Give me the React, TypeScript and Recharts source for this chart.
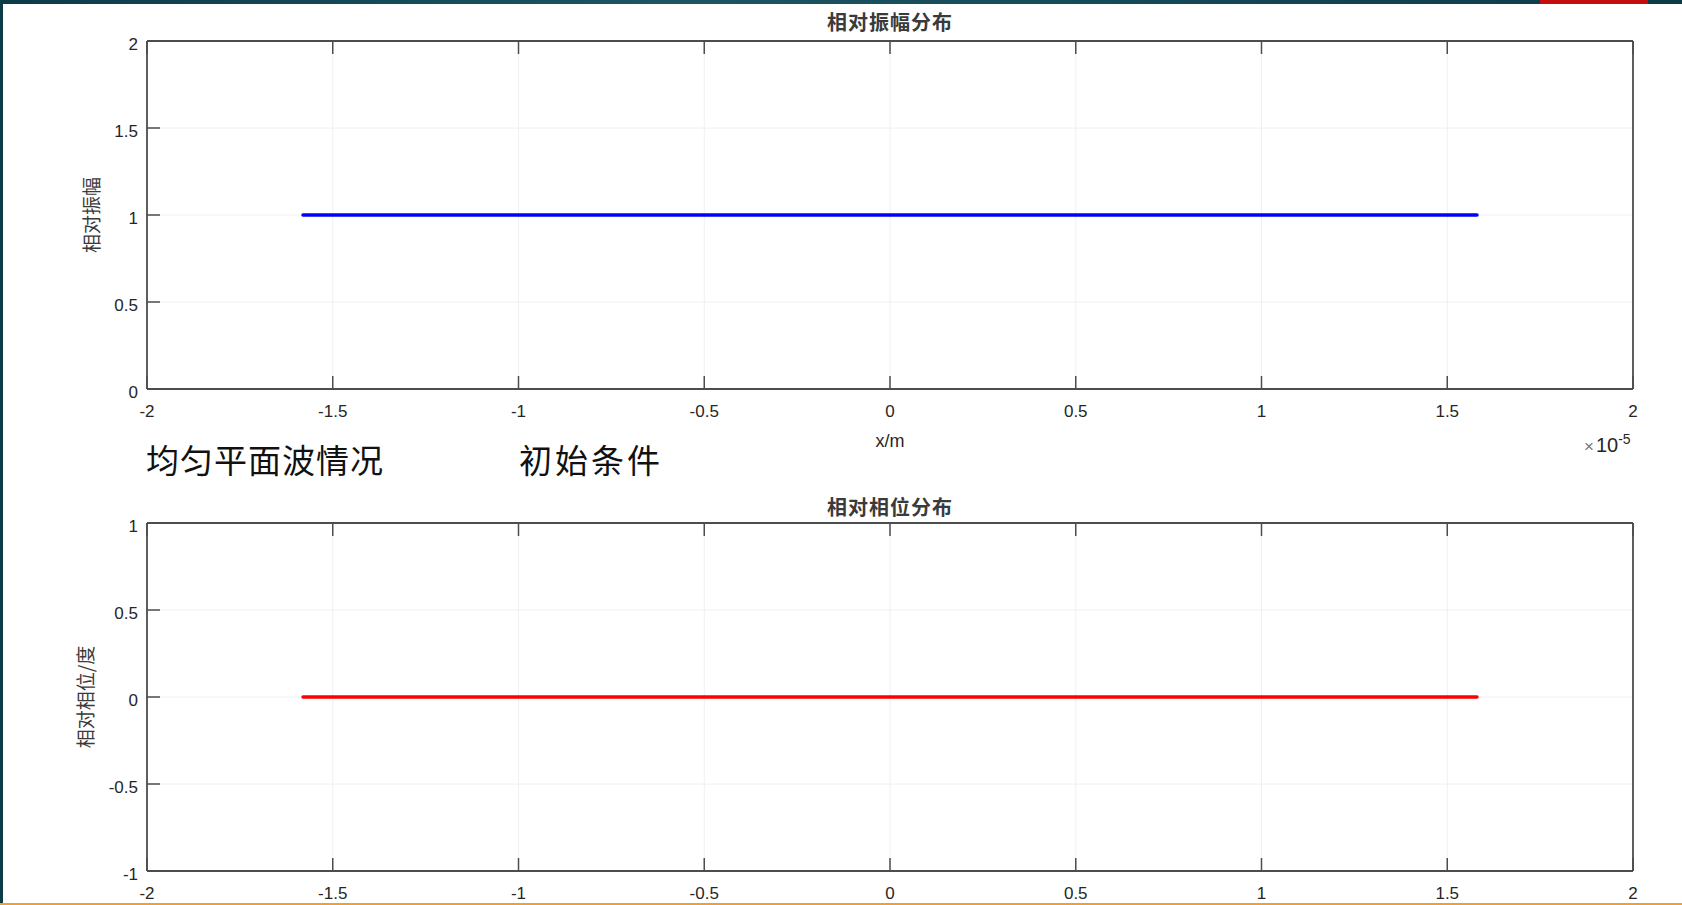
import { CartesianGrid, Line, LineChart, XAxis, YAxis } from 'recharts'

// x positions are in units of 1e-5 m
const xPositions = [-1.58, -1.2, -0.8, -0.4, 0, 0.4, 0.8, 1.2, 1.58]
const amplitude = [1, 1, 1, 1, 1, 1, 1, 1, 1]
const phase = [0, 0, 0, 0, 0, 0, 0, 0, 0]

const xTicks = [-2, -1.5, -1, -0.5, 0, 0.5, 1, 1.5, 2]
const ampTicks = [0, 0.5, 1, 1.5, 2]
const phaseTicks = [-1, -0.5, 0, 0.5, 1]

const ampData = xPositions.map((x, i) => ({ x, y: amplitude[i] }))
const phaseData = xPositions.map((x, i) => ({ x, y: phase[i] }))

const AXIS = '#4d4d4d'
const TICK_LEN = 13
const numFont = '"Liberation Sans", Arial, sans-serif'
const cjkFont = '"Noto Sans CJK SC", sans-serif'

const fmt = (v: number) => String(v)

const BottomTick = (props: any) => {
    const { x, y, payload } = props
    return (
        <g>
            <line x1={x} y1={y} x2={x} y2={y - TICK_LEN} stroke={AXIS} strokeWidth={1.5} />
            <text x={x} y={y + 22} textAnchor='middle' dominantBaseline='central' fontSize={17} fill='#262626' fontFamily={numFont}>
                {fmt(payload.value)}
            </text>
        </g>
    )
}

const TopTick = (props: any) => {
    const { x, y } = props
    return <line x1={x} y1={y} x2={x} y2={y + TICK_LEN} stroke={AXIS} strokeWidth={1.5} />
}

const LeftTick = (props: any) => {
    const { x, y, payload } = props
    return (
        <g>
            <line x1={x} y1={y} x2={x + TICK_LEN} y2={y} stroke={AXIS} strokeWidth={1.5} />
            <text x={x - 9} y={y + 3} textAnchor='end' dominantBaseline='central' fontSize={17} fill='#262626' fontFamily={numFont}>
                {fmt(payload.value)}
            </text>
        </g>
    )
}

const RightTick = (props: any) => {
    const { x, y } = props
    return <line x1={x} y1={y} x2={x - TICK_LEN} y2={y} stroke={AXIS} strokeWidth={1.5} />
}

function Panel({ data, ticks, domain, color }: { data: any[]; ticks: number[]; domain: [number, number]; color: string }) {
    return (
        <LineChart width={1682} height={440} data={data} margin={{ top: 31, right: 39, bottom: 21, left: 107 }}>
            <CartesianGrid stroke='#f0f0f0' strokeWidth={1} />
            <XAxis
                dataKey='x'
                type='number'
                domain={[-2, 2]}
                ticks={xTicks}
                allowDataOverflow
                height={30}
                tickSize={0}
                tickMargin={0}
                tickLine={false}
                axisLine={{ stroke: AXIS, strokeWidth: 1.8 }}
                tick={<BottomTick />}
                interval={0}
            />
            <XAxis
                xAxisId='top'
                orientation='top'
                dataKey='x'
                type='number'
                domain={[-2, 2]}
                ticks={xTicks}
                height={10}
                tickSize={0}
                tickMargin={0}
                tickLine={false}
                axisLine={{ stroke: AXIS, strokeWidth: 1.8 }}
                tick={<TopTick />}
                interval={0}
            />
            <YAxis
                type='number'
                domain={domain}
                ticks={ticks}
                width={40}
                tickSize={0}
                tickMargin={0}
                tickLine={false}
                axisLine={{ stroke: AXIS, strokeWidth: 1.8 }}
                tick={<LeftTick />}
                interval={0}
            />
            <YAxis
                yAxisId='right'
                orientation='right'
                type='number'
                domain={domain}
                ticks={ticks}
                width={10}
                tickSize={0}
                tickMargin={0}
                tickLine={false}
                axisLine={{ stroke: AXIS, strokeWidth: 1.8 }}
                tick={<RightTick />}
                interval={0}
            />
            <Line dataKey='y' stroke={color} strokeWidth={3.5} strokeLinecap='round' dot={false} isAnimationActive={false} />
        </LineChart>
    )
}

const abs = (left: number, top: number): React.CSSProperties => ({ position: 'absolute', left, top })

export default function App() {
    return (
        <div style={{ position: 'absolute', left: 0, top: 0, width: 1682, height: 905, background: '#fff', overflow: 'hidden' }}>
            {/* slide frame */}
            <div style={{ ...abs(0, 0), width: 1682, height: 4, background: 'linear-gradient(90deg, #0c3b48, #1d5560 40%, #0c3b48)' }} />
            <div style={{ ...abs(1540, 0), width: 108, height: 4, background: '#c40d0d' }} />
            <div style={{ ...abs(0, 0), width: 3, height: 905, background: '#0c3b48' }} />
            <div style={{ ...abs(0, 903), width: 1682, height: 2, background: '#f0a030' }} />

            <div style={abs(0, 0)}>
                <Panel data={ampData} ticks={ampTicks} domain={[0, 2]} color='#0000ff' />
            </div>
            <div style={abs(0, 482)}>
                <Panel data={phaseData} ticks={phaseTicks} domain={[-1, 1]} color='#ff0000' />
            </div>

            {/* titles */}
            <div style={{ ...abs(690, 9), width: 400, textAlign: 'center', fontFamily: cjkFont, fontSize: 20, fontWeight: 700, color: '#3a3a3a', lineHeight: '26px', letterSpacing: 1 }}>
                相对振幅分布
            </div>
            <div style={{ ...abs(690, 494), width: 400, textAlign: 'center', fontFamily: cjkFont, fontSize: 20, fontWeight: 700, color: '#3a3a3a', lineHeight: '26px', letterSpacing: 1 }}>
                相对相位分布
            </div>

            {/* y labels */}
            <div style={{ ...abs(90, 215), transform: 'translate(-50%, -50%) rotate(-90deg)', whiteSpace: 'nowrap', fontFamily: cjkFont, fontSize: 19, color: '#3a3a3a' }}>
                相对振幅
            </div>
            <div style={{ ...abs(84, 697), transform: 'translate(-50%, -50%) rotate(-90deg)', whiteSpace: 'nowrap', fontFamily: cjkFont, fontSize: 19, color: '#3a3a3a' }}>
                相对相位/度
            </div>

            {/* x label + exponent */}
            <div style={{ ...abs(790, 429), width: 200, textAlign: 'center', fontFamily: numFont, fontSize: 18, color: '#262626', lineHeight: '24px' }}>
                x/m
            </div>
            <div style={{ ...abs(1584, 426), whiteSpace: 'nowrap', fontFamily: numFont, fontSize: 20, color: '#262626', lineHeight: '26px' }}>
                <span style={{ color: '#777', fontSize: 17, marginRight: 2 }}>×</span>10<sup style={{ fontSize: 14 }}>-5</sup>
            </div>

            {/* slide annotations */}
            <div style={{ ...abs(146, 438), whiteSpace: 'nowrap', fontFamily: cjkFont, fontSize: 33, color: '#111', lineHeight: '42px', letterSpacing: 1 }}>
                均匀平面波情况
            </div>
            <div style={{ ...abs(519, 438), whiteSpace: 'nowrap', fontFamily: cjkFont, fontSize: 33, color: '#111', lineHeight: '42px', letterSpacing: 3 }}>
                初始条件
            </div>
        </div>
    )
}
